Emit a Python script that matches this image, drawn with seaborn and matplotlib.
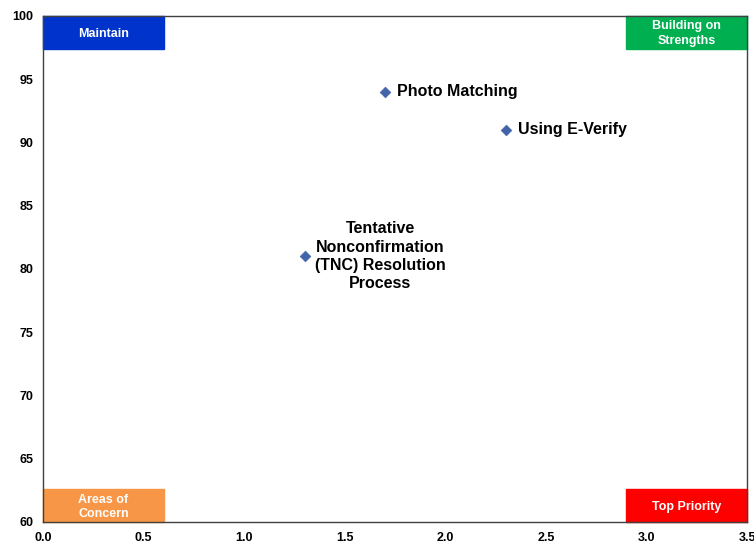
import matplotlib
matplotlib.use("Agg")

import matplotlib.pyplot as plt
import seaborn as sns
import pandas as pd

# Data
areas = ["Photo Matching", "Using E-Verify",
         "Tentative\nNonconfirmation\n(TNC) Resolution\nProcess"]
x_vals = [1.7, 2.3, 1.3]
y_vals = [94, 91, 81]

x_ticks = [0.0, 0.5, 1.0, 1.5, 2.0, 2.5, 3.0, 3.5]
y_ticks = [60, 65, 70, 75, 80, 85, 90, 95, 100]

quadrants = ["Maintain", "Building on\nStrengths", "Areas of\nConcern", "Top Priority"]
quad_colors = ["#0033CC", "#00B050", "#F79646", "#FF0000"]


def main():
    sns.set_style("white")
    plt.rcParams["font.family"] = ["Liberation Sans", "DejaVu Sans"]
    plt.rcParams["text.color"] = "black"
    plt.rcParams["xtick.color"] = "black"
    plt.rcParams["ytick.color"] = "black"

    df = pd.DataFrame({"x": x_vals, "y": y_vals, "label": areas})

    fig = plt.figure(figsize=(7.54, 5.46), dpi=100)
    ax = fig.add_axes([0.057, 0.044, 0.934, 0.927])

    sns.scatterplot(data=df, x="x", y="y", marker="D", s=30,
                    color="#4163A9", edgecolor="#4163A9", ax=ax, zorder=3)

    ax.set_xlim(0, 3.5)
    ax.set_ylim(60, 100)
    ax.set_xticks(x_ticks)
    ax.set_yticks(y_ticks)
    ax.set_xticklabels([f"{t:.1f}" for t in x_ticks], fontweight="bold", fontsize=9)
    ax.set_yticklabels([str(t) for t in y_ticks], fontweight="bold", fontsize=9)
    ax.tick_params(axis="both", length=3, width=0.8, color="#555555", pad=4)
    ax.set_xlabel("")
    ax.set_ylabel("")
    for sp in ax.spines.values():
        sp.set_color("#404040")
        sp.set_linewidth(1.0)

    # quadrant boxes
    bw, bh = 0.6, 2.6
    boxes = [(0.0, 100 - bh), (3.5 - bw, 100 - bh), (0.0, 60), (3.5 - bw, 60)]
    for (bx, by), name, c in zip(boxes, quadrants, quad_colors):
        ax.add_patch(plt.Rectangle((bx, by), bw, bh, color=c, zorder=2,
                                   clip_on=False))
        ax.text(bx + bw / 2, by + bh / 2 - 0.1, name, ha="center", va="center",
                color="white", fontweight="bold", fontsize=9,
                linespacing=1.25, zorder=4)

    # point labels
    ax.text(x_vals[0] + 0.06, y_vals[0], areas[0], ha="left", va="center",
            fontweight="bold", fontsize=11.5)
    ax.text(x_vals[1] + 0.06, y_vals[1], areas[1], ha="left", va="center",
            fontweight="bold", fontsize=11.5)
    ax.text(x_vals[2] + 0.375, y_vals[2], areas[2], ha="center", va="center",
            fontweight="bold", fontsize=11.5, linespacing=1.28)

    fig.savefig("out.png", dpi=100)
    plt.close(fig)


if __name__ == "__main__":
    main()
